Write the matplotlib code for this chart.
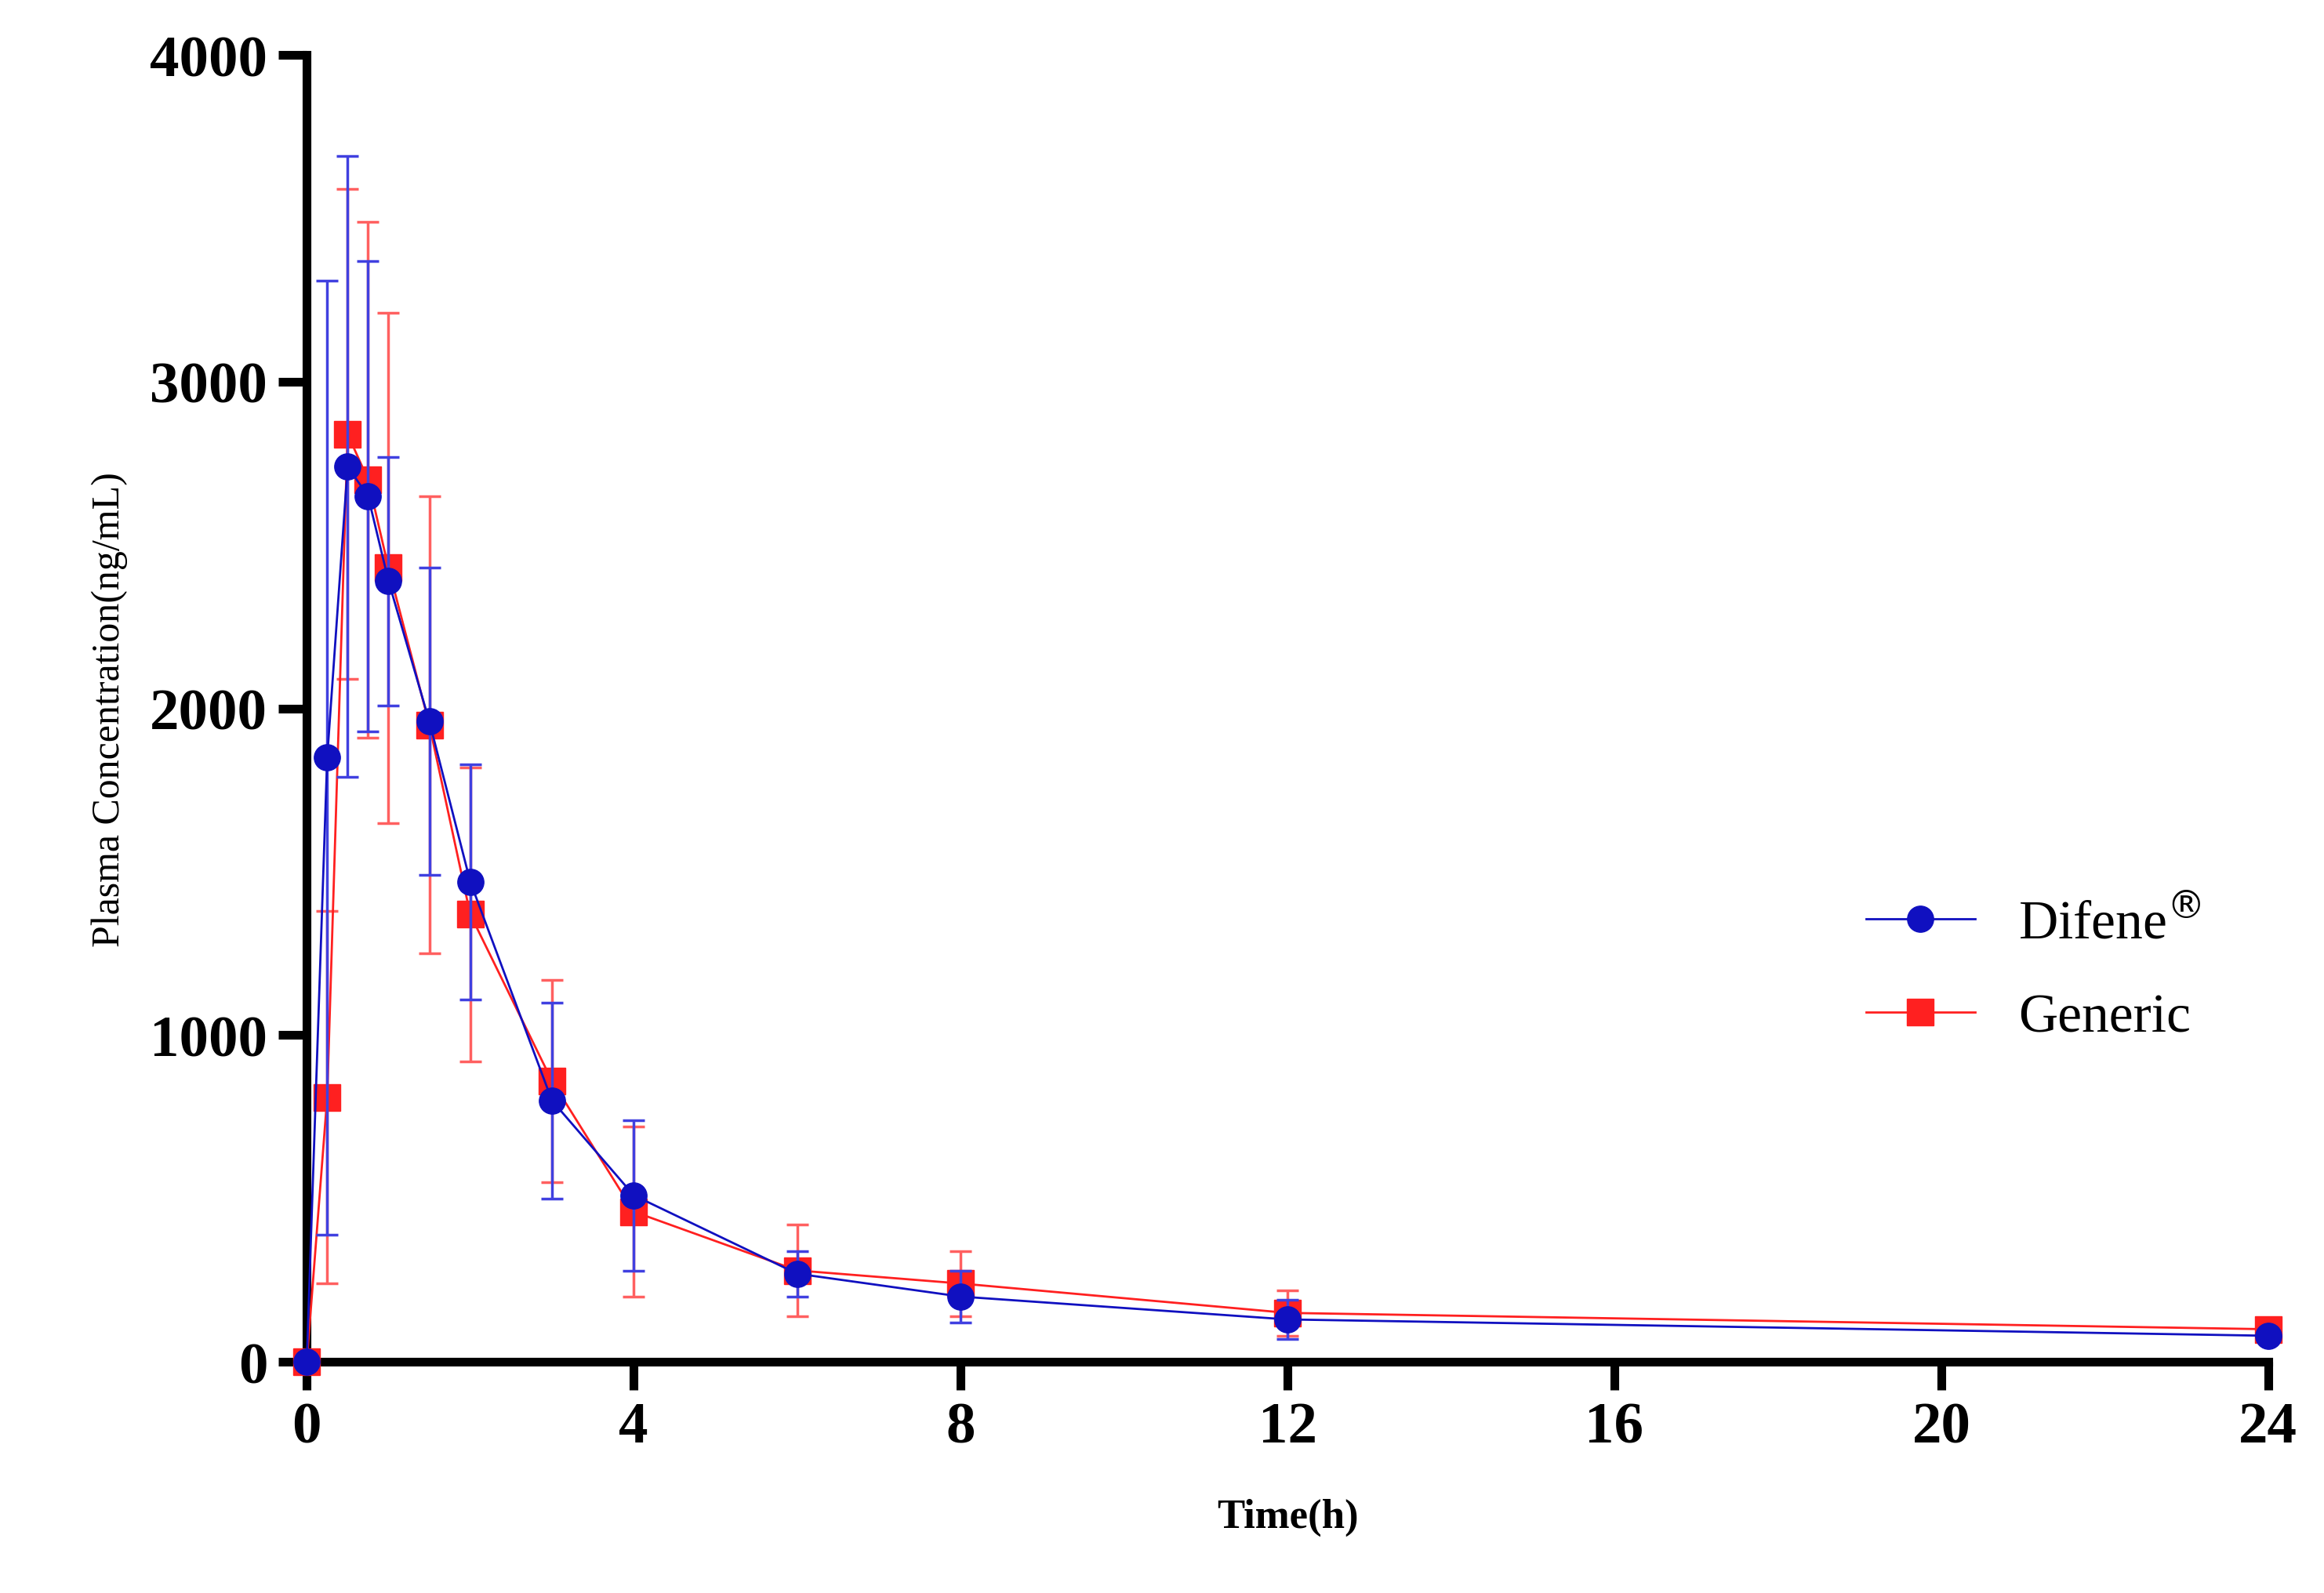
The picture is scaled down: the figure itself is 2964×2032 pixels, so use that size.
import matplotlib.pyplot as plt

time_h = [0, 0.25, 0.5, 0.75, 1, 1.5, 2, 3, 4, 6, 8, 12, 24]
difene = [0, 1850, 2740, 2650, 2390, 1960, 1470, 800, 510, 270, 200, 130, 80]
difene_sd = [0, 1460, 950, 720, 380, 470, 360, 300, 230, 70, 80, 60, 15]
generic = [0, 810, 2840, 2700, 2430, 1950, 1370, 860, 460, 280, 240, 150, 100]
generic_sd = [0, 570, 750, 790, 780, 700, 450, 310, 260, 140, 100, 70, 20]

plt.rcParams['font.family'] = ['Liberation Serif', 'DejaVu Serif']

fig = plt.figure(figsize=(29.64, 20.33), dpi=100)
ax = fig.add_axes([0.132, 0.145, 0.844, 0.82])

eg = ax.errorbar(time_h, generic, yerr=generic_sd, color='#ff2020', ecolor='#ff6060',
                 marker='s', markersize=24, lw=2, elinewidth=2.5, capsize=10,
                 capthick=2.5, clip_on=False, zorder=3)
ed = ax.errorbar(time_h, difene, yerr=difene_sd, color='#1010c0', ecolor='#4040e0',
                 marker='o', markersize=24, lw=2, elinewidth=2.5, capsize=10,
                 capthick=2.5, clip_on=False, zorder=4)

ax.set_xlim(0, 24)
ax.set_ylim(0, 4000)
ax.set_xticks([0, 4, 8, 12, 16, 20, 24])
ax.set_yticks([0, 1000, 2000, 3000, 4000])
for s in ['top', 'right']:
    ax.spines[s].set_visible(False)
for s in ['left', 'bottom']:
    ax.spines[s].set_linewidth(8)
ax.tick_params(width=8, length=26, labelsize=54, pad=10)
for lab in ax.get_xticklabels() + ax.get_yticklabels():
    lab.set_fontweight('bold')

ax.set_xlabel('Time(h)', fontsize=38, fontweight='bold', labelpad=40)
ax.set_ylabel('Plasma Concentration(ng/mL)', fontsize=36, labelpad=20)

ax.legend([ed.lines[0], eg.lines[0]], ['Difene$^{\\circledR}$', 'Generic'],
          loc='center left', bbox_to_anchor=(0.77, 0.30),
          frameon=False, fontsize=50, handlelength=2.0, labelspacing=0.8)

fig.savefig('out.png')
